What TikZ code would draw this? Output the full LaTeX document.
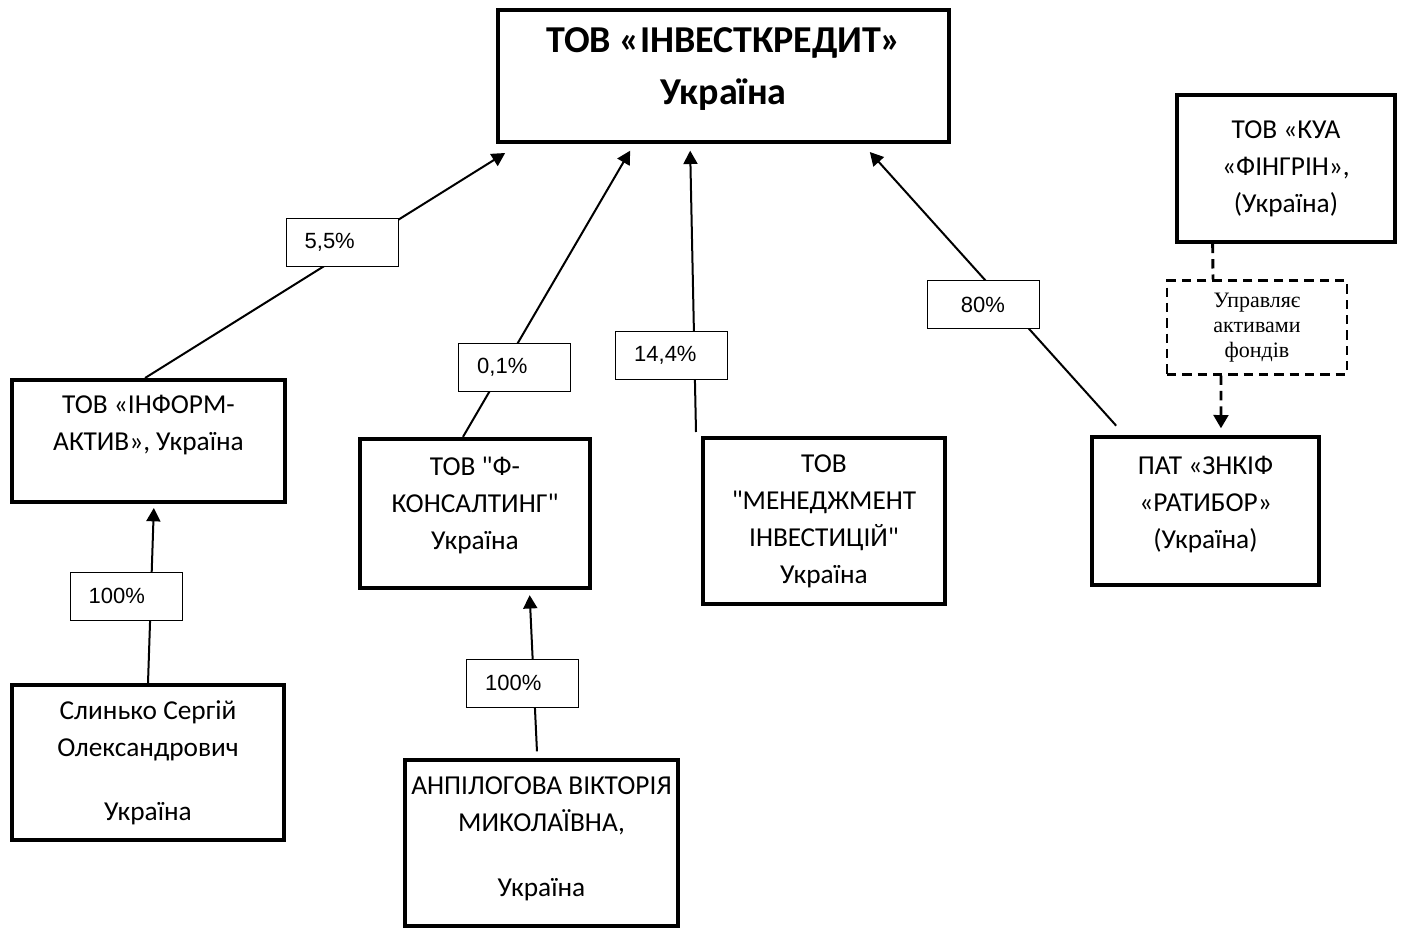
\documentclass[tikz,border=0pt]{standalone}
\usepackage{fontspec}
\setmainfont{Carlito}
\newfontfamily\pctfont{Liberation Sans}
\newfontfamily\notefont{Liberation Serif}
\usepackage{tikz}
\usetikzlibrary{arrows.meta}
\newcommand\dropby[1]{\rule[-#1]{0pt}{0pt}}

\begin{document}
\begin{tikzpicture}[x=0.75pt,y=-0.75pt]
        % Redefine some styles
        \tikzstyle{entity} = [rectangle,draw=black,line width=3pt,align=center,
        inner sep=0pt, font=\fontsize{20.5}{27.75}\selectfont]
        \tikzstyle{share} = [rectangle,draw=black,fill=white,line width=0.6pt,
        minimum width=84pt, minimum height=36pt, inner xsep=14pt, text width=56pt,
        align=left, font=\pctfont\fontsize{16.5}{19}\selectfont]
        \tikzstyle{note} = [rectangle,draw=black,line width=2.2pt,align=center,
        dash pattern=on 7pt off 4.5pt, minimum width=135pt, minimum height=70pt,
        inner sep=0pt, font=\notefont\fontsize{16.5}{19}\selectfont]
        \tikzstyle{link} = [line width=1.5pt, -{Triangle[length=10pt,width=10.5pt]}]
        \tikzstyle{mgmt} = [line width=2.2pt, dash pattern=on 7pt off 4.5pt]

        \useasboundingbox (0,0) rectangle (1418,931);

        % Nodes
        \node (main)     [entity, minimum width=338pt, minimum height=99pt,
                          font=\bfseries\fontsize{28.5}{39}\selectfont]
                         at (723.5,76)   {ТОВ «ІНВЕСТКРЕДИТ»\\Україна\dropby{15pt}};
        \node (inform)   [entity, minimum width=205pt, minimum height=91.5pt]
                         at (148.5,441)  {ТОВ «ІНФОРМ-\\АКТИВ», Україна\\~};
        \node (slynko)   [entity, minimum width=204pt, minimum height=116pt]
                         at (148,762.5)  {Слинько Сергій\\Олександрович\\[20pt]Україна};
        \node (fkons)    [entity, minimum width=172.5pt, minimum height=112pt]
                         at (475,513.5)  {ТОВ \textquotedbl Ф-\\КОНСАЛТИНГ\textquotedbl\\Україна\dropby{16pt}};
        \node (anpil)    [entity, minimum width=205pt, minimum height=124.5pt]
                         at (541.5,843)  {АНПІЛОГОВА ВІКТОРІЯ\\МИКОЛАЇВНА,\\[21pt]Україна\dropby{10pt}};
        \node (menedzh)  [entity, minimum width=181.5pt, minimum height=124.5pt]
                         at (824,521)    {ТОВ\\\textquotedbl МЕНЕДЖМЕНТ\\ІНВЕСТИЦІЙ\textquotedbl\\Україна};
        \node (znkif)    [entity, minimum width=170pt, minimum height=111pt]
                         at (1205.5,511) {ПАТ «ЗНКІФ\\«РАТИБОР»\\(Україна)\dropby{12.5pt}};
        \node (kua)      [entity, minimum width=163.5pt, minimum height=110pt]
                         at (1286,168.5) {ТОВ «КУА\\«ФІНГРІН»,\\(Україна)};
        \node (manage)   [note] at (1257,327.5) {Управляє\\активами\\фондів};

        % Edges
        \draw [link] ([xshift=-2.6pt]inform.north) -- ([xshift=6.75pt,yshift=-6.75pt]main.south west);
        \draw [link] ([xshift=-9pt]fkons.north) -- ([xshift=-70pt,yshift=-5pt]main.south);
        \draw [link] ([xshift=-3.75pt,yshift=3pt]menedzh.north west) -- ([xshift=-25pt,yshift=-5pt]main.south);
        \draw [link] ([xshift=19.5pt,yshift=7pt]znkif.north west) -- ([xshift=-60.75pt,yshift=-6pt]main.south east);
        \draw [link] (slynko.north) -- ([xshift=4pt,yshift=-3pt]inform.south);
        \draw [link] ([xshift=-3.4pt,yshift=5pt]anpil.north) -- ([xshift=41pt,yshift=-3.75pt]fkons.south);
        \draw [mgmt] ([xshift=-55pt]kua.south) -- ([xshift=-33pt]manage.north);
        \draw [mgmt, -{Triangle[length=10pt,width=11pt]}] ([xshift=-27pt]manage.south)
                     -- ([xshift=11.6pt,yshift=5pt]znkif.north);

        % Shares
        \node (s55)   [share] at (342,242)     {5,5\%};
        \node (s01)   [share] at (514.5,367)   {0,1\%};
        \node (s144)  [share] at (671.5,355)   {14,4\%};
        \node (s80)   [share, align=center] at (983,304.5) {80\%};
        \node (s100a) [share] at (126,596)     {100\%};
        \node (s100b) [share] at (522.5,683)   {100\%};

\end{tikzpicture}
\end{document}
